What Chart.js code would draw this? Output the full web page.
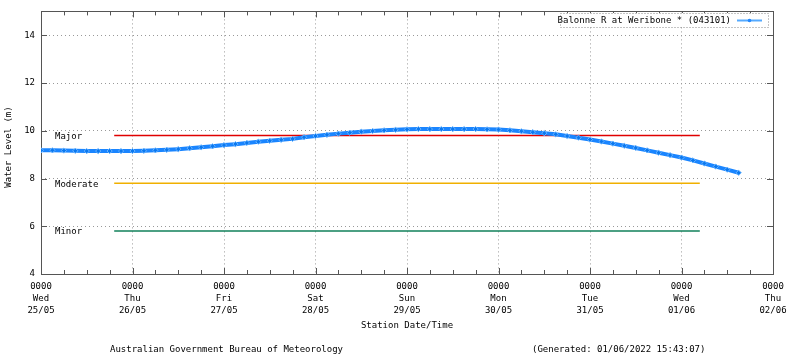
<!DOCTYPE html>
<html>
<head>
<meta charset="utf-8">
<script src="https://cdn.jsdelivr.net/npm/chart.js@4/dist/chart.umd.min.js"></script>
<style>
html,body{margin:0;padding:0;background:#fff;}
#wrap{width:800px;height:358px;position:relative;}
</style>
</head>
<body>
<div id="wrap"><canvas id="c" width="800" height="358"></canvas></div>
<script>
// Time in days since 0000 Wed 25/05 (3-hourly readings)
const dayOffsets = [0,0.125,0.25,0.375,0.5,0.625,0.75,0.875,1,1.125,1.25,1.375,1.5,1.625,1.75,1.875,2,2.125,2.25,2.375,2.5,2.625,2.75,2.875,3,3.125,3.25,3.375,3.5,3.625,3.75,3.875,4,4.125,4.25,4.375,4.5,4.625,4.75,4.875,5,5.125,5.25,5.375,5.5,5.625,5.75,5.875,6,6.125,6.25,6.375,6.5,6.625,6.75,6.875,7,7.125,7.25,7.375,7.5,7.625];
const waterLevel = [9.18,9.18,9.17,9.16,9.15,9.15,9.15,9.15,9.15,9.16,9.18,9.20,9.23,9.27,9.31,9.35,9.40,9.44,9.49,9.54,9.58,9.62,9.66,9.73,9.78,9.83,9.88,9.92,9.96,9.99,10.02,10.04,10.06,10.07,10.07,10.07,10.07,10.07,10.07,10.06,10.05,10.02,9.98,9.94,9.90,9.85,9.78,9.71,9.63,9.55,9.46,9.37,9.28,9.18,9.08,8.98,8.88,8.76,8.63,8.50,8.37,8.24];
const tickTimes = ["0000","0000","0000","0000","0000","0000","0000","0000","0000"];
const tickDays = ["Wed","Thu","Fri","Sat","Sun","Mon","Tue","Wed","Thu"];
const tickDates = ["25/05","26/05","27/05","28/05","29/05","30/05","31/05","01/06","02/06"];
const yTicks = [4,6,8,10,12,14];
const floodNames = ["Major","Moderate","Minor"];
const floodLevels = [9.8,7.8,5.8];
const floodColors = ["#e00000","#f0b000","#10805a"];
const floodStart = 0.8, floodEnd = 7.2;
const seriesName = "Balonne R at Weribone * (043101)";

const FONT = "DejaVu Sans Mono";
const floodSets = floodLevels.map((lv,i)=>({
  label: floodNames[i],
  data: [{x:floodStart,y:lv},{x:floodEnd,y:lv}],
  borderColor: floodColors[i], borderWidth: 1.5, pointRadius: 0, showLine: true, fill:false
}));

const decor = {
  id:'decor',
  beforeDatasetsDraw(chart){
    const {ctx, chartArea:a, scales:{x,y}} = chart;
    ctx.save();
    ctx.strokeStyle = '#555'; ctx.lineWidth = 1;
    ctx.strokeRect(Math.round(a.left)+0.5, Math.round(a.top)+0.5, Math.round(a.right-a.left), Math.round(a.bottom-a.top));
    ctx.beginPath();
    for(let d=0; d<=8.001; d+=0.25){
      const px = Math.round(x.getPixelForValue(d))+0.5;
      const len = (Math.abs(d-Math.round(d))<1e-6)?6:4;
      ctx.moveTo(px,a.bottom); ctx.lineTo(px,a.bottom-len);
      ctx.moveTo(px,a.top); ctx.lineTo(px,a.top+len);
    }
    yTicks.forEach(v=>{
      const py = Math.round(y.getPixelForValue(v))+0.5;
      ctx.moveTo(a.left,py); ctx.lineTo(a.left+6,py);
      ctx.moveTo(a.right,py); ctx.lineTo(a.right-6,py);
    });
    ctx.stroke();
    ctx.fillStyle = '#000'; ctx.font = '9px "'+FONT+'"';
    ctx.textBaseline = 'middle'; ctx.textAlign = 'left';
    floodLevels.forEach((lv,i)=>{
      ctx.fillText(floodNames[i], 55, y.getPixelForValue(lv)+1);
    });
    ctx.restore();
  },
  afterDraw(chart){
    const {ctx} = chart;
    ctx.save();
    ctx.font = '9px "'+FONT+'"';
    const bx=560, by=13, bw=208, bh=14;
    ctx.fillStyle='#fff'; ctx.fillRect(bx,by,bw,bh);
    ctx.setLineDash([1,2]); ctx.strokeStyle='#888'; ctx.lineWidth=1;
    ctx.strokeRect(bx+0.5,by+0.5,bw,bh);
    ctx.setLineDash([]);
    ctx.fillStyle='#000'; ctx.textAlign='right'; ctx.textBaseline='middle';
    ctx.fillText(seriesName, 731, by+bh/2+1);
    ctx.strokeStyle='#55aaff'; ctx.lineWidth=2;
    ctx.beginPath(); ctx.moveTo(737,by+bh/2+0.5); ctx.lineTo(762,by+bh/2+0.5); ctx.stroke();
    ctx.fillStyle='#2288ff';
    ctx.beginPath(); ctx.arc(749.5,by+bh/2+0.5,1.8,0,Math.PI*2); ctx.fill();
    ctx.fillStyle='#000'; ctx.textAlign='center'; ctx.textBaseline='middle';
    ctx.fillText('Station Date/Time', 407, 326);
    ctx.save(); ctx.translate(9,147); ctx.rotate(-Math.PI/2);
    ctx.fillText('Water Level (m)',0,0); ctx.restore();
    ctx.textAlign='left';
    ctx.fillText('Australian Government Bureau of Meteorology', 110, 350);
    ctx.fillText('(Generated: 01/06/2022 15:43:07)', 532, 350);
    ctx.restore();
  }
};

new Chart(document.getElementById('c'), {
  type:'scatter',
  data:{datasets:[
    {
      label: seriesName,
      data: dayOffsets.map((d,i)=>({x:d,y:waterLevel[i]})),
      showLine:true, borderColor:'#1a85ff', borderWidth:4,
      pointStyle:'rectRot', pointRadius:2.6, pointBackgroundColor:'#0a78f0', pointBorderColor:'#6ab4ff', pointBorderWidth:1,
      fill:false, order:0
    },
    ...floodSets.map(s=>Object.assign(s,{order:1}))
  ]},
  options:{
    responsive:false, animation:false, devicePixelRatio:1,
    layout:{padding:{top:11,right:27,left:0,bottom:0}},
    plugins:{legend:{display:false}, tooltip:{enabled:false}},
    scales:{
      x:{
        type:'linear', min:0, max:8,
        afterBuildTicks(s){ s.ticks = tickDays.map((_,i)=>({value:i})); },
        afterFit(s){ s.height = 84; },
        border:{display:false, dash:[1,3]},
        grid:{color:'#999', lineWidth:1, tickLength:0, drawTicks:false},
        ticks:{
          autoSkip:false, maxRotation:0, padding:7, color:'#000',
          font:{family:FONT, size:9, lineHeight:1.33},
          callback(v){ const i=Math.round(v); return [tickTimes[i],tickDays[i],tickDates[i]]; }
        }
      },
      y:{
        type:'linear', min:4, max:15,
        afterBuildTicks(s){ s.ticks = yTicks.map(v=>({value:v})); },
        afterFit(s){ s.width = 41; },
        border:{display:false, dash:[1,3]},
        grid:{color:'#999', lineWidth:1, tickLength:0, drawTicks:false},
        ticks:{padding:6, color:'#000', font:{family:FONT, size:9}}
      }
    }
  },
  plugins:[decor]
});
</script>
</body>
</html>
